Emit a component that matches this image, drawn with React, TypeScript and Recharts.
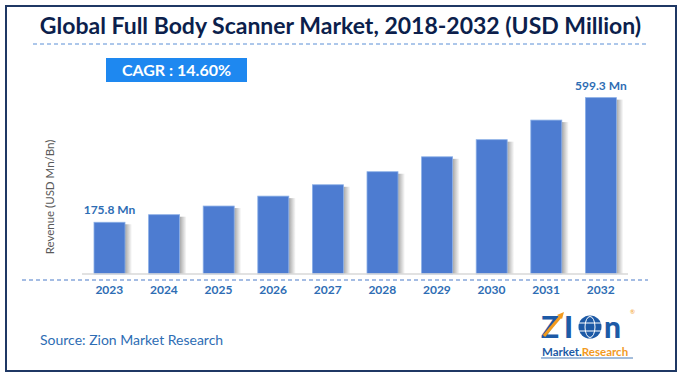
import { BarChart, Bar, XAxis, YAxis, LabelList } from 'recharts'

const years = ['2023', '2024', '2025', '2026', '2027', '2028', '2029', '2030', '2031', '2032']
const revenue = [175.8, 201.5, 230.9, 264.6, 303.2, 347.5, 398.2, 456.4, 523.0, 599.3]
const shownLabels = ['175.8 Mn', '', '', '', '', '', '', '', '', '599.3 Mn']

const data = years.map((y, i) => ({ year: y, value: revenue[i] }))

const FONT = 'Lato, "Open Sans", sans-serif'
const BLUE_TEXT = '#2e6db4'

function ShadowBar(props: any) {
  const { x, y, width, height } = props
  if (!height || height <= 0) return null
  return (
    <g>
      <rect x={x + width} y={y + 2} width={7} height={height - 2} fill="url(#barShadow)" />
      <rect x={x} y={y} width={width} height={height} fill="#4d7cd1" stroke="#8aaee6" strokeWidth={0.8} />
    </g>
  )
}

function renderLabel(props: any) {
  const { x, y, width, index } = props
  const text = shownLabels[index]
  if (!text) return null
  return (
    <text
      x={x + width / 2}
      y={y - 8}
      textAnchor="middle"
      fill={BLUE_TEXT}
      fontSize={12}
      fontWeight={700}
      fontFamily={FONT}
    >
      {text}
    </text>
  )
}

function Logo() {
  return (
    <svg width={102} height={54} style={{ position: 'absolute', left: 538, top: 307 }}>
      <text x={3} y={31} fontSize={30} fontWeight={900} fill="#1d5aa6" fontFamily={FONT}>Z</text>
      <path d="M6 29 L23 9" stroke="#f29a1f" strokeWidth={3} />
      <path d="M19 8 L26 5 L24 12 Z" fill="#f29a1f" />
      <text x={26} y={31} fontSize={30} fontWeight={900} fill="#1d5aa6" fontFamily={FONT}>I</text>
      <circle cx={52} cy={20} r={11.5} fill="#1d5aa6" />
      <ellipse cx={52} cy={20} rx={5} ry={10.5} fill="none" stroke="#fff" strokeWidth={1} />
      <line x1={41} y1={16} x2={63} y2={16} stroke="#fff" strokeWidth={1} />
      <line x1={41} y1={24} x2={63} y2={24} stroke="#fff" strokeWidth={1} />
      <text x={66} y={31} fontSize={30} fontWeight={900} fill="#1d5aa6" fontFamily={FONT}>n</text>
      <text x={92} y={7} fontSize={6} fill="#f29a1f" fontFamily={FONT}>®</text>
      <text x={4} y={49} fontSize={11.5} fontWeight={700} fontFamily={FONT}>
        <tspan fill="#1d5aa6">Market.</tspan>
        <tspan fill="#f29a1f">Research</tspan>
      </text>
      <line x1={3} y1={51} x2={95} y2={51} stroke="#1d5aa6" strokeWidth={0.8} />
    </svg>
  )
}

export default function App() {
  return (
    <div style={{ position: 'absolute', left: 0, top: 0, width: 681, height: 377, background: '#fff', fontFamily: FONT }}>
      <div
        style={{
          position: 'absolute',
          left: 5,
          top: 5,
          width: 668,
          height: 363,
          border: '2px solid #1f3864',
        }}
      />
      <div
        style={{
          position: 'absolute',
          left: 0,
          top: 11,
          width: 681,
          textAlign: 'center',
          fontSize: 23,
          fontWeight: 700,
          color: '#0c1f4c',
        }}
      >
        Global Full Body Scanner Market, 2018-2032 (USD Million)
      </div>
      <svg width={681} height={377} style={{ position: 'absolute', left: 0, top: 0 }}>
        <line x1={33} y1={44} x2={648} y2={44} stroke="#5b8fd6" strokeWidth={1} strokeDasharray="4 3" />
        <line x1={22} y1={280} x2={648} y2={280} stroke="#4a7bc8" strokeWidth={1} strokeDasharray="4 3" />
        <text
          transform="translate(54,197) rotate(-90)"
          textAnchor="middle"
          fontSize={11.5}
          fill="#595959"
          fontFamily={FONT}
        >
          Revenue (USD Mn/Bn)
        </text>
      </svg>
      <div
        style={{
          position: 'absolute',
          left: 106,
          top: 58,
          width: 141,
          height: 24,
          background: '#1e88f0',
          color: '#fff',
          fontWeight: 700,
          fontSize: 16,
          lineHeight: '24px',
          textAlign: 'center',
        }}
      >
        CAGR : 14.60%
      </div>
      <div style={{ position: 'absolute', left: 0, top: 0 }}>
        <BarChart width={681} height={377} data={data} margin={{ top: 68, right: 53, bottom: 73, left: 82 }}>
          <defs>
            <linearGradient id="barShadow" x1="0" y1="0" x2="1" y2="0">
              <stop offset="0%" stopColor="#000" stopOpacity={0.35} />
              <stop offset="100%" stopColor="#000" stopOpacity={0} />
            </linearGradient>
          </defs>
          <XAxis
            dataKey="year"
            height={30}
            axisLine={{ stroke: '#d9d9d9', strokeWidth: 1.5 }}
            tickLine={false}
            tick={{ fill: BLUE_TEXT, fontSize: 12, fontWeight: 700, fontFamily: FONT }}
            tickMargin={5}
            interval={0}
          />
          <YAxis hide domain={[0, 700]} />
          <Bar dataKey="value" barSize={31} shape={ShadowBar} isAnimationActive={false}>
            <LabelList dataKey="value" content={renderLabel} />
          </Bar>
        </BarChart>
      </div>
      <div style={{ position: 'absolute', left: 40, top: 331, fontSize: 14, color: BLUE_TEXT }}>
        Source: Zion Market Research
      </div>
      <Logo />
    </div>
  )
}
